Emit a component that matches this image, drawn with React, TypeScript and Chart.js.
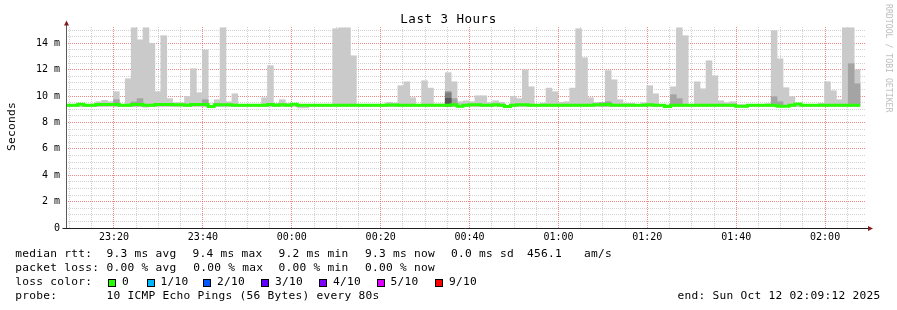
import React, { useEffect, useRef } from 'react';
import { Chart, registerables } from 'chart.js';

Chart.register(...registerables);

// ---- time axis (minutes relative to 00:00) ----
const STEP_MIN = 80 / 60; // 80 s per RRD step
const START_MIN = -50.8; // 23:09:12
const END_MIN = 129.2; // 02:09:12
const Y_MAX = 15.23; // ms

const xMajorLabels = ['23:20', '23:40', '00:00', '00:20', '00:40', '01:00', '01:20', '01:40', '02:00'];
const xMajorValues = [-40, -20, 0, 20, 40, 60, 80, 100, 120];
const yTickLabels = ['0', '2 m', '4 m', '6 m', '8 m', '10 m', '12 m', '14 m'];

// ---- smoke: outer band (min..max ping), per 80 s step, ms ----
const maxRtt: (number | null)[] = [
  9.35, 9.35, 9.4, 9.35, 9.35, 9.57, 9.67, 9.57, 10.33, 9.35,
  11.31, 15.17, 14.26, 15.17, 14.0, 10.33, 14.57, 9.8, 9.5, 9.5,
  9.97, 12.07, 10.25, 13.5, 9.3, 9.72, 15.17, 9.57, 10.17, 9.35,
  9.35, 9.35, 9.35, 9.87, 12.3, 9.45, 9.72, 9.45, 9.4, 9.35,
  9.35, 9.35, 9.35, 9.35, 9.35, 15.1, 15.17, 15.17, 13.05, 9.35,
  9.35, 9.35, 9.35, 9.35, 9.52, 9.47, 10.78, 11.08, 9.87, 9.35,
  11.16, 10.6, 9.4, 9.4, 11.77, 11.08, 9.57, 9.64, 9.57, 10.02,
  10.02, 9.5, 9.64, 9.52, 9.3, 9.97, 9.8, 11.99, 10.7, 9.35,
  9.47, 10.6, 10.33, 9.52, 9.57, 10.6, 15.1, 12.9, 9.87, 9.52,
  9.45, 11.93, 11.23, 9.72, 9.45, 9.45, 9.35, 9.49, 10.78, 10.17,
  9.35, 9.35, 10.7, 15.17, 14.57, 9.35, 11.08, 10.55, 12.67, 11.54,
  9.64, 9.49, 9.57, 9.35, 9.35, 9.35, 9.35, 9.35, 9.42, 14.95,
  12.82, 10.63, 9.95, 9.4, 9.35, 9.35, 9.35, 9.45, 11.08, 10.4,
  9.72, 15.17, 15.17, 11.99, null,
];

const minRtt: (number | null)[] = [
  9.2, 9.2, 9.2, 9.2, 9.2, 9.2, 9.2, 9.2, 9.2, 9.2,
  9.2, 9.2, 9.2, 9.15, 9.2, 9.2, 9.2, 9.2, 9.2, 9.2,
  9.2, 9.2, 9.2, 9.2, 9.15, 9.2, 9.2, 9.2, 9.2, 9.2,
  9.2, 9.2, 9.2, 9.2, 9.2, 9.2, 9.2, 9.2, 9.2, 9.1,
  9.1, 9.2, 9.2, 9.2, 9.2, 9.2, 9.2, 9.2, 9.2, 9.2,
  9.2, 9.2, 9.2, 9.2, 9.2, 9.2, 9.2, 9.2, 9.2, 9.2,
  9.2, 9.2, 9.2, 9.2, 9.2, 9.2, 9.15, 9.2, 9.2, 9.2,
  9.2, 9.2, 9.2, 9.2, 9.15, 9.2, 9.2, 9.2, 9.2, 9.2,
  9.2, 9.2, 9.2, 9.2, 9.2, 9.2, 9.2, 9.2, 9.2, 9.2,
  9.2, 9.2, 9.2, 9.2, 9.2, 9.2, 9.2, 9.2, 9.2, 9.2,
  9.2, 9.15, 9.2, 9.2, 9.2, 9.2, 9.2, 9.2, 9.2, 9.2,
  9.2, 9.2, 9.2, 9.15, 9.15, 9.2, 9.2, 9.2, 9.2, 9.2,
  9.2, 9.2, 9.2, 9.2, 9.2, 9.2, 9.2, 9.2, 9.2, 9.2,
  9.2, 9.2, 9.2, 9.2, null,
];

// inner smoke bands (upper ping of each pair), only where visible
const band2Steps = [8, 11, 12, 23, 25, 64, 65, 90, 91, 102, 103, 119, 120, 132, 133];
const band2Hi = [9.72, 9.55, 9.8, 9.72, 9.45, 10.35, 9.8, 9.5, 9.57, 10.1, 9.8, 9.95, 9.57, 12.45, 10.93];
const band3Steps = [64];
const band3Hi = [10.25];
const band4Steps = [64];
const band4Hi = [9.82];
const INNER_LO = 9.25;

// median rtt (ms), loss 0 everywhere
const medianRtt: (number | null)[] = [
  9.3, 9.3, 9.37, 9.3, 9.3, 9.35, 9.35, 9.35, 9.35, 9.3,
  9.3, 9.35, 9.35, 9.3, 9.3, 9.35, 9.35, 9.35, 9.33, 9.33,
  9.3, 9.35, 9.35, 9.35, 9.2, 9.33, 9.33, 9.33, 9.3, 9.3,
  9.3, 9.3, 9.3, 9.3, 9.35, 9.3, 9.33, 9.3, 9.37, 9.3,
  9.3, 9.3, 9.3, 9.3, 9.3, 9.3, 9.3, 9.3, 9.3, 9.3,
  9.3, 9.3, 9.3, 9.3, 9.32, 9.32, 9.3, 9.3, 9.3, 9.3,
  9.3, 9.3, 9.3, 9.3, 9.3, 9.33, 9.22, 9.3, 9.33, 9.33,
  9.3, 9.3, 9.33, 9.3, 9.2, 9.3, 9.33, 9.33, 9.3, 9.3,
  9.3, 9.3, 9.3, 9.3, 9.3, 9.3, 9.3, 9.3, 9.3, 9.33,
  9.33, 9.35, 9.3, 9.3, 9.3, 9.3, 9.3, 9.3, 9.33, 9.3,
  9.3, 9.2, 9.3, 9.3, 9.3, 9.3, 9.3, 9.3, 9.3, 9.3,
  9.3, 9.3, 9.3, 9.22, 9.22, 9.3, 9.3, 9.3, 9.3, 9.3,
  9.22, 9.22, 9.3, 9.4, 9.3, 9.3, 9.3, 9.3, 9.3, 9.3,
  9.3, 9.3, 9.3, 9.3, null,
];

const lossLegend = ['0', '1/10', '2/10', '3/10', '4/10', '5/10', '9/10'];
const lossColors = ['#26ff00', '#00b8ff', '#0059ff', '#5e00ff', '#7e00ff', '#dd00ff', '#ff0000'];

const MONO = '"DejaVu Sans Mono", monospace';
const AREA = { left: 66, right: 866, top: 27, bottom: 228 };

const stepStart = (k: number) => START_MIN + k * STEP_MIN;
const stepMid = (k: number) => stepStart(k) + STEP_MIN / 2;

function axisPlugin() {
  return {
    id: 'rrdAxes',
    afterDatasetsDraw(chart: any) {
      const { ctx, chartArea } = chart;
      const L = Math.round(chartArea.left) + 0.5;
      const B = Math.floor(chartArea.bottom) + 0.5;
      const T = chartArea.top;
      const R = chartArea.right;
      ctx.save();
      ctx.lineWidth = 1;
      ctx.strokeStyle = '#5a5a5a';
      ctx.beginPath();
      ctx.moveTo(L, B);
      ctx.lineTo(L, T - 2);
      ctx.stroke();
      ctx.strokeStyle = '#1f1f1f';
      ctx.beginPath();
      ctx.moveTo(L - 4, B);
      ctx.lineTo(R + 2, B);
      ctx.stroke();
      ctx.fillStyle = 'rgb(128,31,31)';
      ctx.beginPath();
      ctx.moveTo(L - 2.5, T - 1.5);
      ctx.lineTo(L + 2.5, T - 1.5);
      ctx.lineTo(L, T - 6.5);
      ctx.closePath();
      ctx.fill();
      ctx.beginPath();
      ctx.moveTo(R + 2, B - 2.5);
      ctx.lineTo(R + 2, B + 2.5);
      ctx.lineTo(R + 7, B);
      ctx.closePath();
      ctx.fill();
      ctx.restore();
    },
  };
}

function Txt(props: { x: number; base: number; size: number; ls?: number; color?: string; children: React.ReactNode }) {
  const { x, base, size, ls = 0, color = '#000', children } = props;
  return (
    <div
      style={{
        position: 'absolute',
        left: x,
        top: base - 0.846 * size,
        fontFamily: MONO,
        fontSize: size,
        lineHeight: `${size}px`,
        letterSpacing: ls,
        whiteSpace: 'pre',
        color,
      }}
    >
      {children}
    </div>
  );
}

export default function App() {
  const canvasRef = useRef<HTMLCanvasElement | null>(null);

  useEffect(() => {
    if (!canvasRef.current) return;

    const bandData = (steps: number[], hi: number[], lo: number) =>
      steps.map((k, i) => ({ x: stepMid(k), y: [lo, hi[i]] }));

    const outer: any[] = [];
    maxRtt.forEach((hi, k) => {
      const lo = minRtt[k];
      if (hi != null && lo != null) outer.push({ x: stepMid(k), y: [lo, hi] });
    });

    const med: any[] = [];
    let last = -1;
    medianRtt.forEach((v, k) => {
      if (v != null) {
        med.push({ x: stepStart(k), y: v });
        last = k;
      }
    });
    if (last >= 0) med.push({ x: stepStart(last + 1), y: medianRtt[last] });

    const barCommon = { grouped: false, barPercentage: 1, categoryPercentage: 1, borderWidth: 0 };

    const xTicks: number[] = [];
    for (let v = -50; v <= END_MIN; v += 5) xTicks.push(v);
    const yTicks: number[] = [];
    for (let v = 0; v <= 15.0001; v += 0.5) yTicks.push(Math.round(v * 10) / 10);

    const gridColor = 'rgba(143,143,143,0.4)';
    const mgridColor = 'rgba(228,40,40,0.55)';

    const chart = new Chart(canvasRef.current, {
      type: 'bar',
      data: {
        datasets: [
          { type: 'line', data: med, borderColor: '#26ff00', borderWidth: 3, pointRadius: 0, stepped: 'before', fill: false, order: 0 } as any,
          { type: 'bar', data: bandData(band4Steps, band4Hi, INNER_LO), backgroundColor: '#585858', order: 1, ...barCommon } as any,
          { type: 'bar', data: bandData(band3Steps, band3Hi, INNER_LO), backgroundColor: '#7e7e7e', order: 2, ...barCommon } as any,
          { type: 'bar', data: bandData(band2Steps, band2Hi, INNER_LO), backgroundColor: '#a4a4a4', order: 3, ...barCommon } as any,
          { type: 'bar', data: outer, backgroundColor: '#cacaca', order: 4, ...barCommon } as any,
        ],
      },
      options: {
        animation: false,
        responsive: false,
        devicePixelRatio: 1,
        events: [],
        layout: {
          padding: {
            left: 0,
            right: 897 - AREA.right,
            top: AREA.top,
            bottom: 310 - AREA.bottom - 20,
          },
        },
        plugins: { legend: { display: false }, tooltip: { enabled: false }, title: { display: false } },
        scales: {
          x: {
            type: 'linear',
            offset: false,
            min: START_MIN,
            max: END_MIN,
            afterBuildTicks: (s: any) => {
              s.ticks = xTicks.map((value) => ({ value }));
            },
            afterFit: (s: any) => {
              s.height = 20;
            },
            grid: {
              offset: false,
              color: (c: any) => (c.tick && xMajorValues.includes(c.tick.value) ? mgridColor : gridColor),
              lineWidth: 1,
              drawTicks: false,
            },
            border: { display: false, dash: [1, 1] },
            ticks: {
              autoSkip: false,
              maxRotation: 0,
              minRotation: 0,
              padding: 3,
              color: '#000',
              font: { family: MONO, size: 10 },
              callback: (v: any) => {
                const i = xMajorValues.indexOf(Number(v));
                return i >= 0 ? xMajorLabels[i] : '';
              },
            },
          },
          y: {
            type: 'linear',
            min: 0,
            max: Y_MAX,
            afterBuildTicks: (s: any) => {
              s.ticks = yTicks.map((value) => ({ value }));
            },
            afterFit: (s: any) => {
              s.width = AREA.left;
            },
            grid: {
              color: (c: any) => (c.tick && c.tick.value % 2 === 0 ? mgridColor : gridColor),
              lineWidth: 1,
              drawTicks: false,
            },
            border: { display: false, dash: [1, 1] },
            ticks: {
              autoSkip: false,
              padding: 6,
              color: '#000',
              font: { family: MONO, size: 10 },
              callback: (v: any) => {
                const n = Number(v);
                return n % 2 === 0 ? yTickLabels[n / 2] : '';
              },
            },
          },
        },
      } as any,
      plugins: [axisPlugin()],
    });
    return () => chart.destroy();
  }, []);

  const LF = 11.2;
  const LS = 0.26;
  const rows = [257.4, 271.6, 285.7, 299.8];
  const boxX = [108.3, 146.7, 203.3, 261.3, 319.3, 376.7, 435.3];

  return (
    <div style={{ position: 'absolute', left: 0, top: 0, width: 897, height: 310, background: '#fff', overflow: 'hidden' }}>
      <canvas ref={canvasRef} width={897} height={310} style={{ position: 'absolute', left: 0, top: 0, width: 897, height: 310 }} />
      <div
        style={{
          position: 'absolute',
          left: 0,
          top: 24 - 0.846 * 12.5,
          width: 897,
          textAlign: 'center',
          fontFamily: MONO,
          fontSize: 12.5,
          lineHeight: '12.5px',
          letterSpacing: 0.5,
          whiteSpace: 'pre',
          color: '#000',
        }}
      >
        Last 3 Hours
      </div>
      <div
        style={{
          position: 'absolute',
          left: 5.6,
          top: 151,
          transform: 'rotate(-90deg)',
          transformOrigin: '0 0',
          fontFamily: MONO,
          fontSize: LF,
          lineHeight: `${LF}px`,
          letterSpacing: LS,
          whiteSpace: 'pre',
          color: '#000',
        }}
      >
        Seconds
      </div>
      <div
        style={{
          position: 'absolute',
          left: 892.7,
          top: 4,
          transform: 'rotate(90deg)',
          transformOrigin: '0 0',
          fontFamily: MONO,
          fontSize: 8.2,
          lineHeight: '8.2px',
          whiteSpace: 'pre',
          color: '#bdbdbd',
        }}
      >
        RRDTOOL / TOBI OETIKER
      </div>

      <Txt x={15.3} base={rows[0]} size={LF} ls={LS}>median rtt:</Txt>
      <Txt x={106.6} base={rows[0]} size={LF} ls={LS}>9.3 ms avg</Txt>
      <Txt x={192.6} base={rows[0]} size={LF} ls={LS}>9.4 ms max</Txt>
      <Txt x={278.6} base={rows[0]} size={LF} ls={LS}>9.2 ms min</Txt>
      <Txt x={365.0} base={rows[0]} size={LF} ls={LS}>9.3 ms now</Txt>
      <Txt x={451.0} base={rows[0]} size={LF} ls={LS}>0.0 ms sd</Txt>
      <Txt x={527.0} base={rows[0]} size={LF} ls={LS}>456.1</Txt>
      <Txt x={584.0} base={rows[0]} size={LF} ls={LS}>am/s</Txt>

      <Txt x={15.3} base={rows[1]} size={LF} ls={LS}>packet loss:</Txt>
      <Txt x={106.6} base={rows[1]} size={LF} ls={LS}>0.00 % avg</Txt>
      <Txt x={193.3} base={rows[1]} size={LF} ls={LS}>0.00 % max</Txt>
      <Txt x={278.6} base={rows[1]} size={LF} ls={LS}>0.00 % min</Txt>
      <Txt x={365.0} base={rows[1]} size={LF} ls={LS}>0.00 % now</Txt>

      <Txt x={15.3} base={rows[2]} size={LF} ls={LS}>loss color:</Txt>
      {lossLegend.map((lab, i) => (
        <React.Fragment key={lab}>
          <div
            style={{
              position: 'absolute',
              left: boxX[i],
              top: 279.3,
              width: 8,
              height: 8,
              boxSizing: 'border-box',
              border: '1px solid #000',
              background: lossColors[i],
            }}
          />
          <Txt x={boxX[i] + 13.7} base={rows[2]} size={LF} ls={LS}>{lab}</Txt>
        </React.Fragment>
      ))}

      <Txt x={15.3} base={rows[3]} size={LF} ls={LS}>probe:</Txt>
      <Txt x={106.6} base={rows[3]} size={LF} ls={LS}>10 ICMP Echo Pings (56 Bytes) every 80s</Txt>
      <Txt x={677.6} base={rows[3]} size={LF} ls={LS}>end: Sun Oct 12 02:09:12 2025</Txt>
    </div>
  );
}
